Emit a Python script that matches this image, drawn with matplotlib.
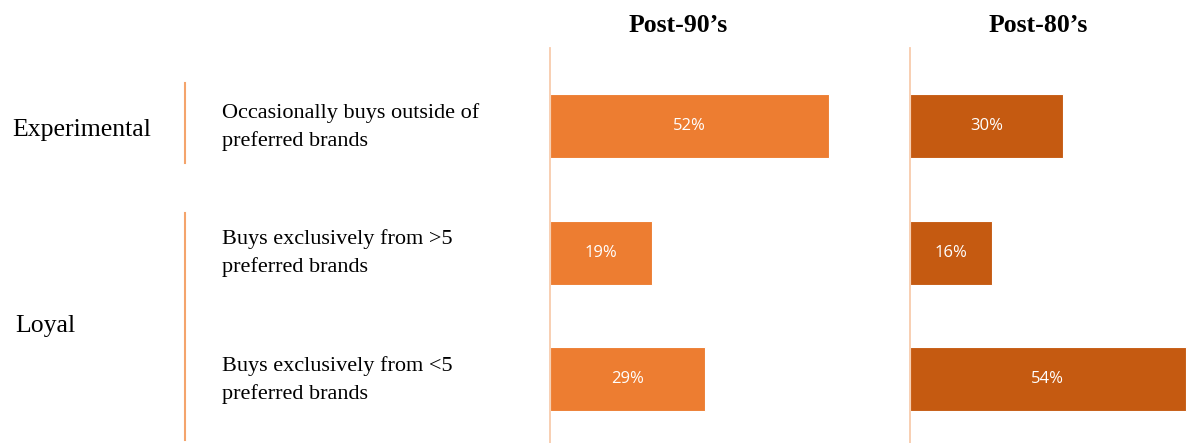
import matplotlib.pyplot as plt
from matplotlib.lines import Line2D

categories = ['Occasionally buys outside of\npreferred brands',
              'Buys exclusively from >5\npreferred brands',
              'Buys exclusively from <5\npreferred brands']
groups = ['Experimental', 'Loyal']
post90 = [52, 19, 29]
post80 = [30, 16, 54]
panel_titles = ['Post-90\u2019s', 'Post-80\u2019s']

W, H = 1196, 443
SERIF = ['Liberation Serif', 'DejaVu Serif']
SANS = ['Open Sans', 'DejaVu Sans']


def fx(px):
    return px / W


def fy(py):
    return 1 - py / H


def main():
    fig = plt.figure(figsize=(W / 100, H / 100), dpi=100)

    panels = [(550, 300, post90, '#ED7D31'), (910, 286, post80, '#C55A11')]
    for (left, width, vals, col), title in zip(panels, panel_titles):
        ax = fig.add_axes([fx(left), 0, fx(width), (H - 48) / H])
        ax.barh(range(len(vals)), vals, height=0.506, color=col,
                edgecolor='white', linewidth=0.8)
        for i, v in enumerate(vals):
            ax.text(v / 2, i, f'{v}%', ha='center', va='center', color='white',
                    fontsize=12, family=SANS)
        ax.set_xlim(0, 56)
        ax.set_ylim(2.506, -0.617)
        for s in ['top', 'right', 'bottom']:
            ax.spines[s].set_visible(False)
        ax.spines['left'].set_color('#F8CBAD')
        ax.spines['left'].set_linewidth(1.3)
        ax.set_xticks([])
        ax.set_yticks([])
        ax.patch.set_alpha(0)
        fig.text(fx(left + 128), fy(26), title, ha='center', va='center',
                 fontsize=18.5, fontweight='bold', family=SERIF)

    # category descriptions
    for cy, cat in zip([127, 253, 380], categories):
        fig.text(fx(222), fy(cy), cat, ha='left', va='center', fontsize=16,
                 family=SERIF, linespacing=1.5)

    # group labels and brackets
    fig.text(fx(12), fy(130), groups[0], ha='left', va='center', fontsize=18.5, family=SERIF)
    fig.text(fx(15), fy(326), groups[1], ha='left', va='center', fontsize=18.5, family=SERIF)
    for y0, y1 in [(83, 163), (213, 440)]:
        fig.add_artist(Line2D([fx(185), fx(185)], [fy(y0), fy(y1)],
                              color='#F4A46C', linewidth=1.5))

    fig.savefig('out.png', dpi=100)


if __name__ == '__main__':
    main()
